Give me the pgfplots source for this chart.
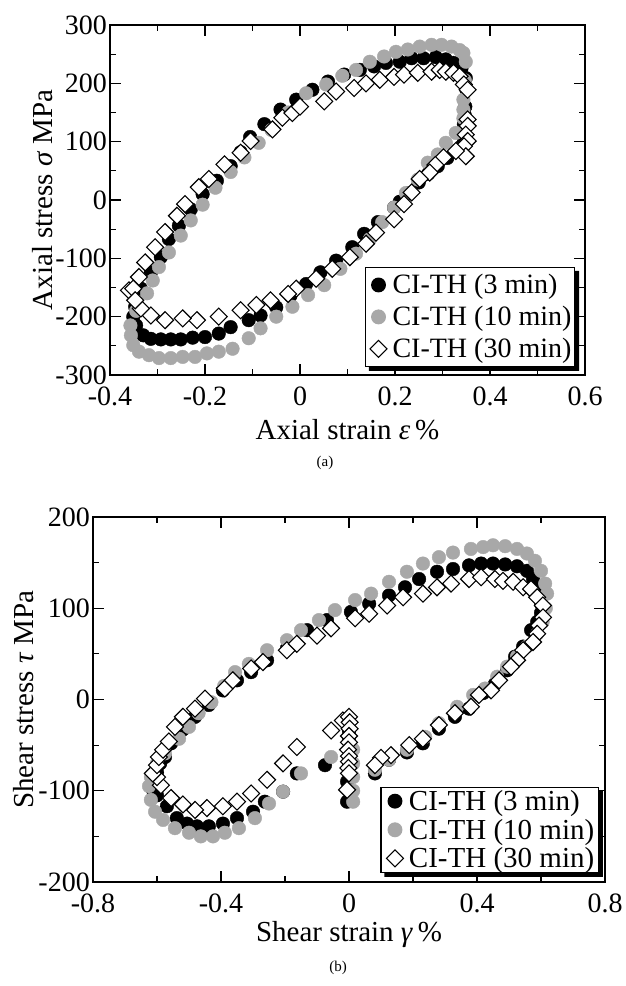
\documentclass[border=0pt]{standalone}
\usepackage{fontspec}
\setmainfont{Liberation Serif}
\usepackage{pgfplots}
\pgfplotsset{compat=1.18}
\definecolor{mgray}{HTML}{A8A8A8}
\newcommand{\tfont}{\fontsize{28}{30}\selectfont}
\newcommand{\lfont}{\fontsize{29}{31}\selectfont}
\newcommand{\gfont}{\fontsize{28}{30}\selectfont}
\newcommand{\gbfont}{\fontsize{29}{31}\selectfont}
\pgfplotsset{
  common/.style={
    scale only axis,
    axis line style={line width=1.2pt},
    every tick/.style={line width=1.2pt, black},
    tick align=inside,
    major tick length=11pt,
    minor tick length=6pt,
    minor x tick num=1, minor y tick num=1,
    xticklabel style={font=\tfont, inner sep=0pt, yshift=-12pt},
    yticklabel style={font=\tfont, inner sep=0pt, xshift=-3pt},
    label style={font=\lfont},
    clip=false,
    legend cell align=left,
    legend image code/.code={\draw[mark repeat=1,#1] plot coordinates {(0pt,0pt)}; \path[draw=none] (-12pt,-8pt) rectangle (12pt,8pt);},
    legend style={draw=black, line width=1.3pt, fill=white, font=\gfont,
      inner xsep=1pt},
  },
  sblack/.style={only marks, mark=*, mark size=6.8pt, mark options={draw=black, fill=black}},
  sgray/.style={only marks, mark=*, mark size=6.8pt, mark options={draw=mgray, fill=mgray}},
  sdia/.style={only marks, mark=square*, mark size=6pt, mark options={rotate=45, draw=black, fill=white, line width=1.1pt}},
}
\newcommand{\legshadow}[1]{%
  \fill[black] ([xshift=4pt]#1.south west) -- ([xshift=4pt,yshift=-4pt]#1.south west)
    -- ([xshift=4pt,yshift=-4pt]#1.south east) -- ([xshift=4pt,yshift=-4pt]#1.north east)
    -- ([yshift=-4pt]#1.north east) -- (#1.south east) -- cycle;}
\begin{document}
\begin{tikzpicture}
\useasboundingbox (0,0) rectangle (626pt,986pt);
% ---------------- (a) ----------------
\begin{axis}[common,
  at={(110pt,611pt)}, anchor=south west, width=475pt, height=350pt,
  xmin=-0.4, xmax=0.6, ymin=-300, ymax=300,
  xtick={-0.4,-0.2,0,0.2,0.4,0.6}, xticklabels={-0.4,-0.2,0,0.2,0.4,0.6},
  ytick={-300,-200,-100,0,100,200,300}, yticklabels={-300,-200,-100,0,100,200,300},
  xlabel={Axial strain \textit{ε}\,\%},
  ylabel={Axial stress \textit{σ} MPa},
  xlabel style={at={(axis description cs:0.5,-0.157)}, anchor=center},
  ylabel style={at={(axis description cs:-0.141,0.5)}, anchor=center},
  legend style={at={(0.979,0.023)}, anchor=south east, name=LA, inner ysep=5pt, row sep=7pt},
]
\addplot[sblack] coordinates {
(0.345,130)(0.345,115)(0.345,100)(0.34,92)(0.33,85)(0.31,72)(0.29,58)(0.27,45)(0.25,30)(0.23,12)(0.21,-3)
(0.198,-13)(0.164,-38)(0.135,-58)(0.11,-81)(0.076,-104)(0.043,-124)(0.013,-144)(-0.02,-164)(-0.05,-184)
(-0.083,-198)(-0.108,-206)(-0.146,-218)(-0.171,-229)(-0.2,-235)(-0.226,-236)(-0.251,-239)(-0.272,-239)
(-0.293,-239)(-0.314,-238)(-0.33,-232)(-0.345,-215)(-0.351,-200)
(-0.347,-183)(-0.335,-152)(-0.314,-124)(-0.293,-98)(-0.276,-67)(-0.255,-44)(-0.23,-16)(-0.205,10)
(-0.175,33)(-0.146,58)(-0.125,82)(-0.105,108)(-0.075,130)(-0.041,155)(-0.008,172)(0.026,189)(0.059,203)
(0.093,215)(0.126,223)(0.156,229)(0.181,235)(0.21,237)(0.235,243)(0.26,243)(0.286,245)(0.307,241)
(0.323,235)(0.34,226)(0.349,209)(0.35,190)(0.348,160)(0.347,145)
};
\addlegendentry{CI-TH (3 min)}
\addplot[sgray] coordinates {
(0.344,155)(0.344,140)(0.328,115)(0.307,98)(0.29,78)(0.269,64)(0.248,35)(0.223,12)(0.198,-13)(0.173,-38)
(0.147,-67)(0.118,-92)(0.085,-118)(0.051,-146)(0.017,-163)(-0.016,-183)(-0.05,-200)(-0.083,-220)
(-0.108,-237)(-0.142,-255)(-0.171,-260)(-0.196,-263)(-0.221,-269)(-0.247,-269)(-0.272,-271)(-0.297,-271)
(-0.318,-266)(-0.339,-260)(-0.351,-249)(-0.356,-232)(-0.357,-215)
(-0.345,-190)(-0.322,-160)(-0.31,-138)(-0.297,-115)(-0.276,-90)(-0.251,-61)(-0.23,-35)(-0.205,-8)(-0.178,21)
(-0.146,48)(-0.117,73)(-0.087,98)(-0.06,120)(-0.025,150)(0.013,183)(0.055,198)(0.089,213)(0.118,223)
(0.147,237)(0.177,246)(0.202,254)(0.227,258)(0.252,263)(0.277,266)(0.298,266)(0.319,263)(0.336,257)
(0.344,252)(0.349,237)(0.347,205)(0.344,172)
};
\addlegendentry{CI-TH (10 min)}
\addplot[sdia] coordinates {
(-0.36,-155)(-0.351,-152)(-0.339,-132)(-0.326,-107)(-0.305,-81)(-0.284,-55)(-0.259,-27)(-0.242,-7)
(-0.213,22)(-0.192,36)(-0.159,61)(-0.125,81)(-0.104,101)(-0.058,121)(-0.037,141)(-0.016,149)(0,160)
(0.051,169)(0.076,186)(0.114,192)(0.139,200)(0.168,206)(0.198,211)(0.219,215)(0.248,218)(0.277,220)
(0.294,223)(0.307,220)(0.323,218)(0.336,212)(0.345,198)(0.353,189)
(0.353,138)(0.353,127)(0.349,112)(0.353,101)(0.345,92)(0.349,75)
(0.328,84)(0.302,73)(0.285,60)(0.273,47)(0.252,36)(0.235,13)(0.219,-7)(0.198,-33)(0.16,-56)(0.139,-75)
(0.105,-98)(0.068,-118)(0.034,-135)(-0.008,-152)(-0.025,-161)(-0.062,-172)(-0.092,-180)(-0.125,-189)
(-0.171,-200)(-0.217,-206)(-0.247,-203)(-0.284,-206)(-0.314,-198)(-0.335,-186)(-0.347,-172)
};
\addlegendentry{CI-TH (30 min)}
\end{axis}
\legshadow{LA}
\node[font=\fontsize{15}{17}\selectfont] at (325pt,523pt) {(a)};
% ---------------- (b) ----------------
\begin{axis}[common,
  at={(93pt,104pt)}, anchor=south west, width=512pt, height=365pt,
  xmin=-0.8, xmax=0.8, ymin=-200, ymax=200,
  xtick={-0.8,-0.4,0,0.4,0.8}, xticklabels={-0.8,-0.4,0,0.4,0.8},
  ytick={-200,-100,0,100,200}, yticklabels={-200,-100,0,100,200},
  xlabel={Shear strain \textit{γ}\,\%},
  ylabel={Shear stress \textit{τ} MPa},
  xlabel style={at={(axis description cs:0.5,-0.145)}, anchor=center},
  ylabel style={at={(axis description cs:-0.135,0.5)}, anchor=center},
  legend style={at={(0.988,0.025)}, anchor=south east, name=LB, inner ysep=1pt, row sep=3pt, font=\gbfont, inner xsep=2pt},
]
\addplot[sblack] coordinates {
(-0.613,-99)(-0.6,-80)(-0.59,-70)(-0.575,-63)(-0.556,-48)(-0.519,-33)(-0.481,-19)(-0.438,-6)(-0.394,10)
(-0.35,21)(-0.306,30)(-0.256,43)(-0.194,56)(-0.131,76)(-0.069,87)(0.006,96)(0.063,105)(0.125,114)
(0.175,123)(0.219,132)(0.275,140)(0.325,143)(0.375,147)(0.413,149)(0.45,149)(0.488,148)(0.525,146)
(0.556,141)(0.575,132)(0.585,120)(0.6,105)
(0.6,95)(0.588,85)(0.569,76)(0.544,58)(0.519,47)(0.494,32)(0.456,17)(0.419,7)(0.375,-10)(0.331,-19)
(0.281,-32)(0.231,-48)(0.181,-58)(0.125,-66)(0.081,-81)
(-0.075,-72)(-0.006,-112)(-0.006,-90)(0,-70)(0,-55)(0,-45)(0,-35)
(-0.163,-81)(-0.206,-101)(-0.263,-112)(-0.3,-123)(-0.35,-130)(-0.394,-136)(-0.438,-139)(-0.475,-139)
(-0.506,-136)(-0.538,-130)(-0.569,-117)(-0.6,-105)
};
\addlegendentry{CI-TH (3 min)}
\addplot[sgray] coordinates {
(-0.625,-95)(-0.619,-85)(-0.6,-70)(-0.575,-59)(-0.531,-43)(-0.5,-30)(-0.47,-15)(-0.43,-3)(-0.39,15)
(-0.356,30)(-0.313,39)(-0.256,54)(-0.194,65)(-0.15,76)(-0.094,87)(-0.044,98)(0.019,109)(0.069,116)
(0.125,129)(0.181,140)(0.231,149)(0.281,156)(0.325,161)(0.381,165)(0.419,167)(0.45,169)(0.488,168)
(0.525,165)(0.556,160)(0.581,152)(0.6,141)(0.613,127)(0.619,116)(0.615,100)(0.605,85)
(0.588,72)(0.556,58)(0.525,47)(0.494,36)(0.463,25)(0.425,12)(0.388,5)(0.338,-8)(0.281,-26)(0.238,-41)
(0.181,-55)(0.125,-66)(0.081,-77)
(-0.056,-63)(0.013,-55)(0.013,-70)(0.013,-85)(0.013,-100)(0.013,-112)
(-0.15,-81)(-0.206,-101)(-0.25,-114)(-0.294,-130)(-0.344,-141)(-0.388,-146)(-0.425,-150)(-0.463,-150)
(-0.5,-146)(-0.544,-141)(-0.581,-132)(-0.606,-123)(-0.619,-110)
};
\addlegendentry{CI-TH (10 min)}
\addplot[sdia] coordinates {
(-0.163,-52)(-0.206,-70)(-0.256,-88)(-0.306,-103)(-0.35,-112)(-0.394,-117)(-0.444,-119)(-0.481,-121)
(-0.519,-115)(-0.556,-108)(-0.588,-94)(-0.6,-85)(-0.613,-81)(-0.6,-72)(-0.594,-63)(-0.581,-55)(-0.563,-46)
(-0.544,-30)(-0.519,-19)(-0.481,-10)(-0.45,1)(-0.388,12)(-0.363,21)(-0.306,34)(-0.269,41)(-0.194,54)
(-0.163,61)(-0.1,70)(-0.056,78)(0.019,89)(0.063,94)(0.119,103)(0.169,112)(0.231,116)(0.275,123)
(0.319,127)(0.375,132)(0.413,134)(0.456,132)(0.481,130)(0.513,129)(0.544,123)(0.569,121)(0.588,112)
(0.606,103)(0.606,90)(0.594,81)(0.588,72)(0.575,63)(0.544,54)(0.525,43)(0.506,36)(0.469,21)(0.444,10)
(0.406,5)(0.381,-8)(0.331,-15)(0.281,-28)(0.231,-43)(0.188,-50)(0.131,-61)(0.1,-64)(0.081,-72)
(-0.056,-34)(-0.019,-23)(0,-19)(0.002,-25)(0.002,-32)(0,-40)(0,-47)(-0.003,-55)(0,-62)(0,-68)
(-0.002,-75)(0,-81)(-0.006,-99)
};
\addlegendentry{CI-TH (30 min)}
\end{axis}
\legshadow{LB}
\node[font=\fontsize{15}{17}\selectfont] at (338pt,18pt) {(b)};
\end{tikzpicture}
\end{document}
